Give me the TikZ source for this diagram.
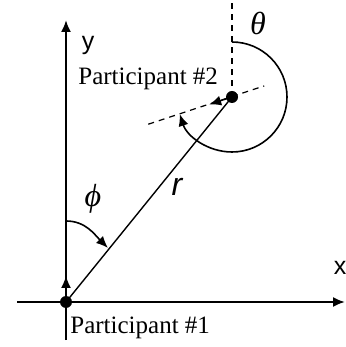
\documentclass[tikz,border=0pt]{standalone}
\usepackage{fontspec}
\setmainfont{Liberation Serif}
\setsansfont{Liberation Sans}
\usetikzlibrary{arrows.meta,calc}

\begin{document}
\begin{tikzpicture}[x=0.5pt, y=0.5pt, >={Latex[length=6pt,width=5pt]},
    dot/.style={circle, fill, inner sep=0pt, minimum size=6pt},
    axis/.style={line width=1pt},
    guide/.style={dash pattern=on 3pt off 2.5pt, line width=0.6pt},
    txt/.style={font=\fontsize{12.5}{15}\selectfont, inner sep=0pt},
    sans/.style={font=\sffamily\fontsize{12.5}{15}\selectfont, inner sep=0pt},
    ang/.style={font=\itshape\fontsize{16}{19}\selectfont, inner sep=0pt}]
    % 1. Khung
    \useasboundingbox (-66,-45) rectangle (279,302);

    % 2. Hệ trục tọa độ
    \coordinate (xl) at (-49,0);
    \coordinate (xr) at (279,0);
    \coordinate (yb) at (0,-38);
    \coordinate (yt) at (0,282);
    \draw[axis,->] (xl) -- (xr);
    \draw[axis,->] (yb) -- (yt);
    \node[sans] (xlab) at (274,34) {x};
    \node[sans] (ylab) at (22,257) {y};

    % 3. Hai người tham gia
    \node[dot] (p1) at (0,0) {};
    \node[dot] (p2) at (166,205) {};
    \node[txt, anchor=base west] (n1) at (4,-32) {Participant \#1};
    \node[txt, anchor=base west] (n2) at (12,217) {Participant \#2};
    \draw[line width=0.7pt] (p1.center) -- (p2.center);
    \node[sans, font=\sffamily\itshape\fontsize{16}{19}\selectfont] (rlab) at (111,115) {r};

    % 4. Hướng
    \coordinate (h1) at (0,26);
    \draw[line width=0.7pt,->] (p1.center) -- (h1);
    \coordinate (h2) at ($(p2)+(198:24)$);
    \draw[line width=0.7pt,->] (p2.center) -- (h2);
    \coordinate (d1) at ($(p2)+(198:88)$);
    \coordinate (d2) at ($(p2)+(19:34)$);
    \draw[guide] (d1) -- (d2);
    \coordinate (v1) at (166,302);
    \draw[guide] (p2.center) -- (v1);

    % 5. Các góc
    \coordinate (f1) at (0,81);
    \coordinate (f2) at (42,54);
    \draw[line width=0.8pt,->] (f1) to[out=0,in=135] (f2);
    \node[ang] (phi) at (27,103) {ϕ};
    \coordinate (t1) at ($(p2)+(90:55)$);
    \draw[line width=0.8pt,->] (t1) arc[start angle=90, end angle=-162, radius=55];
    \node[ang] (theta) at (192,279) {θ};
\end{tikzpicture}
\end{document}
